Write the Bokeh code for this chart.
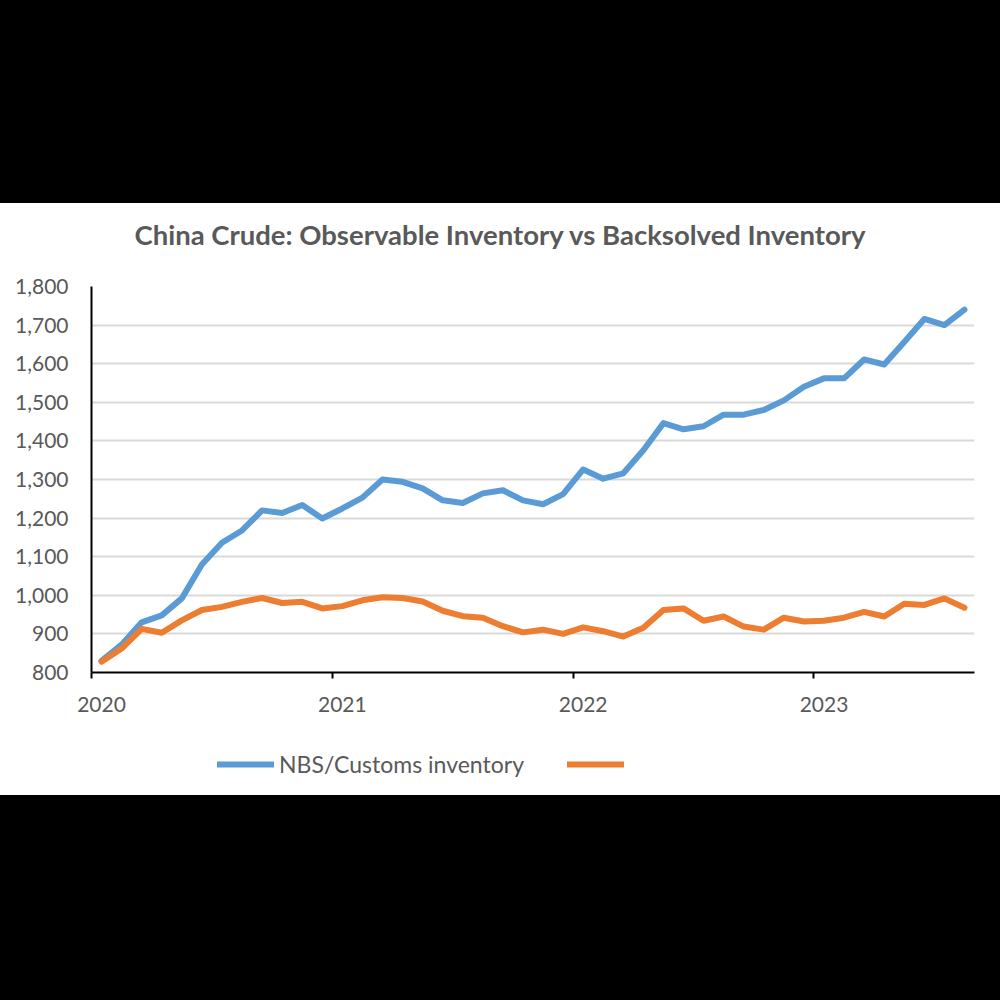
import pandas as pd
from bokeh.plotting import figure
from bokeh.models import (ColumnDataSource, FixedTicker, LinearAxis, NumeralTickFormatter,
                          Legend, LegendItem, Div, Range1d, Grid)
from bokeh.layouts import column
from bokeh.embed import file_html
from bokeh.resources import INLINE

# ---- data ----
months = [f"{y}-{m:02d}" for y in range(2020, 2024) for m in range(1, 13)][:44]
nbs_customs = [830, 872, 930, 948, 992, 1080, 1136, 1168, 1220, 1213, 1234, 1199,
               1225, 1253, 1300, 1294, 1277, 1246, 1239, 1264, 1272, 1246, 1236, 1262,
               1326, 1302, 1316, 1376, 1446, 1430, 1438, 1468, 1468, 1480, 1505, 1540,
               1562, 1562, 1611, 1598, 1656, 1716, 1700, 1740]
backsolved = [828, 862, 913, 903, 935, 962, 970, 983, 993, 980, 983, 966,
              972, 987, 995, 993, 984, 960, 946, 942, 920, 904, 911, 900,
              917, 907, 893, 916, 962, 966, 934, 945, 919, 911, 942, 932,
              934, 942, 957, 945, 978, 975, 992, 968]
year_labels = ["2020", "2021", "2022", "2023"]
y_ticks = [800, 900, 1000, 1100, 1200, 1300, 1400, 1500, 1600, 1700, 1800]
title_text = "China Crude: Observable Inventory vs Backsolved Inventory"
series_names = ["NBS/Customs inventory", " "]

FONT = "Lato"
GRAY = "#595959"
BLUE = "#5b9bd5"
ORANGE = "#ed7d31"

x = list(range(len(months)))
src = ColumnDataSource(dict(x=x, month=months, nbs=nbs_customs, back=backsolved))

p = figure(width=1000, height=462, output_backend="svg", toolbar_location=None,
           x_range=Range1d(-0.5, len(months) - 0.5), y_range=Range1d(800, 1800),
           min_border_left=91, min_border_right=26, min_border_top=16, min_border_bottom=60,
           x_axis_location=None, y_axis_location=None)
p.outline_line_color = None
p.background_fill_color = "white"
p.border_fill_color = "white"
p.xgrid.grid_line_color = None
p.ygrid.grid_line_color = None

# grid
p.add_layout(Grid(dimension=1, ticker=FixedTicker(ticks=y_ticks),
                  grid_line_color="#d9d9d9", grid_line_width=2))

# y axis
yax = LinearAxis(ticker=FixedTicker(ticks=y_ticks), formatter=NumeralTickFormatter(format="0,0"))
yax.axis_line_color = "black"
yax.axis_line_width = 2
yax.major_tick_line_color = None
yax.minor_tick_line_color = None
yax.major_tick_out = 0
yax.major_tick_in = 0
yax.major_label_standoff = 23
yax.major_label_text_font = FONT
yax.major_label_text_font_size = "21px"
yax.major_label_text_color = GRAY
p.add_layout(yax, "left")

# x axis: tick marks at year boundaries
year_idx = [months.index(f"{y}-01") for y in year_labels]
bounds = [i - 0.5 for i in year_idx]
xax1 = LinearAxis(ticker=FixedTicker(ticks=bounds))
xax1.major_label_overrides = {b: "" for b in bounds}
xax1.axis_line_color = "black"
xax1.axis_line_width = 2
xax1.major_tick_line_color = "black"
xax1.major_tick_line_width = 2
xax1.major_tick_out = 6
xax1.major_tick_in = 0
xax1.minor_tick_line_color = None
xax1.major_label_standoff = 0
xax1.major_label_text_font_size = "1px"
p.add_layout(xax1, "below")

# x axis: year labels centred on January
xax2 = LinearAxis(ticker=FixedTicker(ticks=year_idx))
xax2.major_label_overrides = {i: lab for i, lab in zip(year_idx, year_labels)}
xax2.axis_line_color = None
xax2.major_tick_line_color = None
xax2.minor_tick_line_color = None
xax2.major_tick_out = 0
xax2.major_tick_in = 0
xax2.major_label_standoff = 18
xax2.major_label_text_font = FONT
xax2.major_label_text_font_size = "21px"
xax2.major_label_text_color = GRAY
p.add_layout(xax2, "below")

p.line("x", "nbs", source=src, line_color=BLUE, line_width=6,
       line_join="round", line_cap="round")
p.line("x", "back", source=src, line_color=ORANGE, line_width=6,
       line_join="round", line_cap="round")

# legend strip (separate figure; its renderers are hidden, only the legend shows)
pl = figure(width=1000, height=63, output_backend="svg", toolbar_location=None,
            min_border=0, x_axis_location=None, y_axis_location=None)
pl.outline_line_color = None
pl.xgrid.grid_line_color = None
pl.ygrid.grid_line_color = None
lr1 = pl.line("x", "nbs", source=src, line_color=BLUE, line_width=6,
              line_cap="round", visible=False)
lr2 = pl.line("x", "back", source=src, line_color=ORANGE, line_width=6,
              line_cap="round", visible=False)
legend = Legend(items=[LegendItem(label=series_names[0], renderers=[lr1]),
                       LegendItem(label=series_names[1], renderers=[lr2])],
                orientation="horizontal", location="left")
legend.glyph_width = 57
legend.label_standoff = 5
legend.label_width = 217
legend.spacing = 43
legend.padding = 0
legend.margin = 126
legend.border_line_color = None
legend.background_fill_alpha = 0
legend.inactive_fill_alpha = 0
legend.label_text_font = FONT
legend.label_text_font_size = "23px"
legend.label_text_color = GRAY
pl.add_layout(legend, "center")

top = Div(text="", width=1000, height=203, margin=0,
          styles={"background-color": "black"})
title = Div(text=f'<div style="margin-top:12px">{title_text}</div>', width=1000, height=67, margin=0,
            styles={"background-color": "white", "font-family": "Lato", "font-weight": "bold",
                    "font-size": "27.5px", "color": GRAY, "text-align": "center"})
bottom = Div(text="", width=1000, height=205, margin=0,
             styles={"background-color": "black"})
layout = column(top, title, p, pl, bottom, spacing=0)

open("out.html", "w").write(file_html(layout, INLINE))
